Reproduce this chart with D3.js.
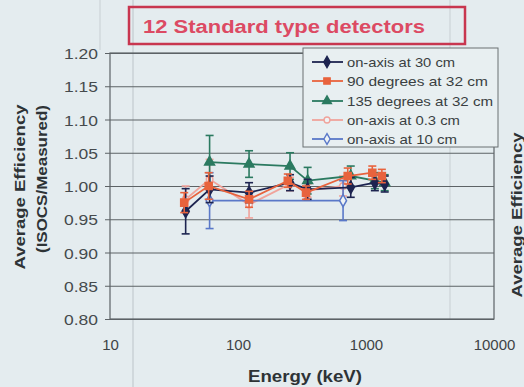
<!DOCTYPE html>
<html><head><meta charset="utf-8">
<script src="https://cdn.jsdelivr.net/npm/d3@7/dist/d3.min.js"></script>
<style>
html,body{margin:0;padding:0;background:#e4ecef;}
svg{display:block;font-family:"Liberation Sans",Arial,sans-serif;}
</style></head>
<body>
<svg id="c" width="524" height="387"></svg>
<script>
// ---- data ----
const titleText = "12 Standard type detectors";
const xTicks = [10, 100, 1000, 10000];
const yTicks = [0.80, 0.85, 0.90, 0.95, 1.00, 1.05, 1.10, 1.15, 1.20];
const seriesNames = ["on-axis at 30 cm", "90 degrees at 32 cm", "135 degrees at 32 cm", "on-axis at 0.3 cm", "on-axis at 10 cm"];

const energyOnAxis30 = [39, 60, 122, 255, 350, 760, 1173, 1400];
const valueOnAxis30  = [0.962, 0.995, 0.990, 1.005, 0.995, 0.998, 1.005, 1.003];
const errOnAxis30    = [0.034, 0.020, 0.015, 0.012, 0.015, 0.015, 0.012, 0.012];

const energyDeg90 = [38, 59, 122, 245, 340, 720, 1120, 1330];
const valueDeg90  = [0.975, 1.000, 0.980, 1.008, 0.990, 1.015, 1.020, 1.015];
const errDeg90    = [0.015, 0.020, 0.012, 0.010, 0.010, 0.012, 0.010, 0.010];

const energyDeg135 = [60, 122, 255, 350, 760, 1173, 1400];
const valueDeg135  = [1.036, 1.033, 1.030, 1.008, 1.015, 1.008, 1.005];
const errDeg135    = [0.040, 0.020, 0.020, 0.020, 0.015, 0.012, 0.012];

const energyOnAxis03 = [39, 60, 122, 255, 350, 662];
const valueOnAxis03  = [0.980, 1.010, 0.972, 1.003, 0.993, 1.000];
const errOnAxis03    = [0.020, 0.030, 0.020, 0.010, 0.010, 0.015];

const energyOnAxis10 = [60, 662];
const valueOnAxis10  = [0.978, 0.978];
const errOnAxis10    = [0.042, 0.030];

// ---- styles ----
const styles = [
  {color:"#1d2450", shape:d3.symbolDiamond, fill:true,  size:45},
  {color:"#e8633d", shape:d3.symbolSquare,  fill:true,  size:50},
  {color:"#2b7a60", shape:d3.symbolTriangle,fill:true,  size:42},
  {color:"#f0a39b", shape:d3.symbolCircle,  fill:false, size:34},
  {color:"#5a78c8", shape:d3.symbolDiamond, fill:false, size:42}
];
const series = [
  {e:energyOnAxis03, v:valueOnAxis03, err:errOnAxis03, s:3},
  {e:energyOnAxis10, v:valueOnAxis10, err:errOnAxis10, s:4},
  {e:energyDeg135,   v:valueDeg135,   err:errDeg135,   s:2},
  {e:energyOnAxis30, v:valueOnAxis30, err:errOnAxis30, s:0},
  {e:energyDeg90,    v:valueDeg90,    err:errDeg90,    s:1}
];

const svg = d3.select("#c");
const L = 110, R = 494, T = 53, B = 319;
const x = d3.scaleLog().domain([10, 10000]).range([L, R]);
const y = d3.scaleLinear().domain([0.8, 1.2]).range([B, T]);

// scan artifacts (faint vertical lines)
svg.append("line").attr("x1",133).attr("x2",133).attr("y1",0).attr("y2",387).attr("stroke","#c3cbcf").attr("stroke-width",1.2);
svg.append("line").attr("x1",450).attr("x2",450).attr("y1",0).attr("y2",320).attr("stroke","#c8cfd3").attr("stroke-width",1);
svg.append("line").attr("x1",100).attr("x2",100).attr("y1",0).attr("y2",50).attr("stroke","#c8cfd3").attr("stroke-width",1);

// title box
svg.append("rect").attr("x",129).attr("y",7).attr("width",336).attr("height",37)
  .attr("fill","none").attr("stroke","#c8364f").attr("stroke-width",2.5);
svg.append("text").attr("x",143).attr("y",33).attr("font-size",18).attr("font-weight","bold")
  .attr("fill","#dc4a63").attr("textLength",282).attr("lengthAdjust","spacingAndGlyphs").text(titleText);

// plot frame & gridlines
const yAxis = d3.axisLeft(y).tickValues(yTicks).tickFormat(d3.format(".2f")).tickSize(-(R-L)).tickPadding(12);
const gy = svg.append("g").attr("transform",`translate(${L},0)`).call(yAxis);
gy.select(".domain").remove();
gy.selectAll(".tick line").attr("stroke","#5d6366").attr("stroke-width",1.2).attr("x1",-5);
gy.selectAll(".tick text").attr("font-size",15).attr("fill","#454a4d").attr("font-family","Liberation Sans, Arial")
  .attr("dy","0.38em").attr("textLength",34).attr("lengthAdjust","spacingAndGlyphs");

svg.append("rect").attr("x",L).attr("y",T).attr("width",R-L).attr("height",B-T)
  .attr("fill","none").attr("stroke","#5d6366").attr("stroke-width",1.2);

const xAxis = d3.axisBottom(x).tickValues(xTicks).tickFormat(d3.format("d")).tickSize(0).tickPadding(20);
const gx = svg.append("g").attr("transform",`translate(0,${B})`).call(xAxis);
gx.select(".domain").remove();
gx.selectAll(".tick text").attr("font-size",15).attr("fill","#3e4346").attr("font-family","Liberation Sans, Arial");

// axis titles
svg.append("text").attr("x",305).attr("y",382).attr("text-anchor","middle").attr("font-size",16).attr("font-weight","bold")
  .attr("fill","#2e3336").attr("textLength",114).attr("lengthAdjust","spacingAndGlyphs").text("Energy (keV)");
svg.append("text").attr("transform","translate(25,187) rotate(-90)").attr("text-anchor","middle").attr("font-size",15)
  .attr("font-weight","bold").attr("fill","#2e3336").attr("textLength",165).attr("lengthAdjust","spacingAndGlyphs").text("Average Efficiency");
svg.append("text").attr("transform","translate(47,179) rotate(-90)").attr("text-anchor","middle").attr("font-size",15)
  .attr("font-weight","bold").attr("fill","#2e3336").attr("textLength",148).attr("lengthAdjust","spacingAndGlyphs").text("(ISOCS/Measured)");
// neighbour chart's title, partly visible at the right edge as in the scan
svg.append("text").attr("transform","translate(522,215) rotate(-90)").attr("text-anchor","middle").attr("font-size",14)
  .attr("font-weight","bold").attr("fill","#2e3336").attr("textLength",165).attr("lengthAdjust","spacingAndGlyphs").text("Average Efficiency");

// series
const line = d3.line().x(d=>x(d.e)).y(d=>y(d.v));
series.forEach(sr=>{
  const st = styles[sr.s];
  const pts = sr.e.map((e,i)=>({e, v:sr.v[i], err:sr.err[i]}));
  const g = svg.append("g");
  g.append("path").datum(pts).attr("d",line).attr("fill","none").attr("stroke",st.color).attr("stroke-width",1.8);
  pts.forEach(p=>{
    const cx = x(p.e), y1 = y(p.v+p.err), y2 = y(p.v-p.err);
    g.append("line").attr("x1",cx).attr("x2",cx).attr("y1",y1).attr("y2",y2).attr("stroke",st.color).attr("stroke-width",1.6);
    [y1,y2].forEach(yy=>g.append("line").attr("x1",cx-4).attr("x2",cx+4).attr("y1",yy).attr("y2",yy).attr("stroke",st.color).attr("stroke-width",1.6));
  });
  g.selectAll("path.m").data(pts).join("path").attr("class","m")
    .attr("d",d3.symbol().type(st.shape).size(st.size))
    .attr("transform",d=>`translate(${x(d.e)},${y(d.v)})`)
    .attr("fill",st.fill?st.color:"#eef3f5").attr("stroke",st.color).attr("stroke-width",1.5);
});

// legend
const lg = svg.append("g");
lg.append("rect").attr("x",303).attr("y",48).attr("width",195).attr("height",99)
  .attr("fill","#e8eff1").attr("stroke","#6a7073").attr("stroke-width",1);
const legendY = [62, 81, 101, 120, 139];
const legendLen = [108, 141, 146, 113, 110];
seriesNames.forEach((name,i)=>{
  const st = styles[i], yy = legendY[i];
  lg.append("line").attr("x1",312).attr("x2",343).attr("y1",yy).attr("y2",yy).attr("stroke",st.color).attr("stroke-width",1.8);
  lg.append("path").attr("d",d3.symbol().type(st.shape).size(st.size*0.8)).attr("transform",`translate(327,${yy})`)
    .attr("fill",st.fill?st.color:"#eef3f5").attr("stroke",st.color).attr("stroke-width",1.4);
  lg.append("text").attr("x",347).attr("y",yy).attr("dy","0.36em").attr("font-size",13).attr("fill","#3a3f42")
    .attr("textLength",legendLen[i]).attr("lengthAdjust","spacingAndGlyphs").text(name);
});
</script>
</body></html>
